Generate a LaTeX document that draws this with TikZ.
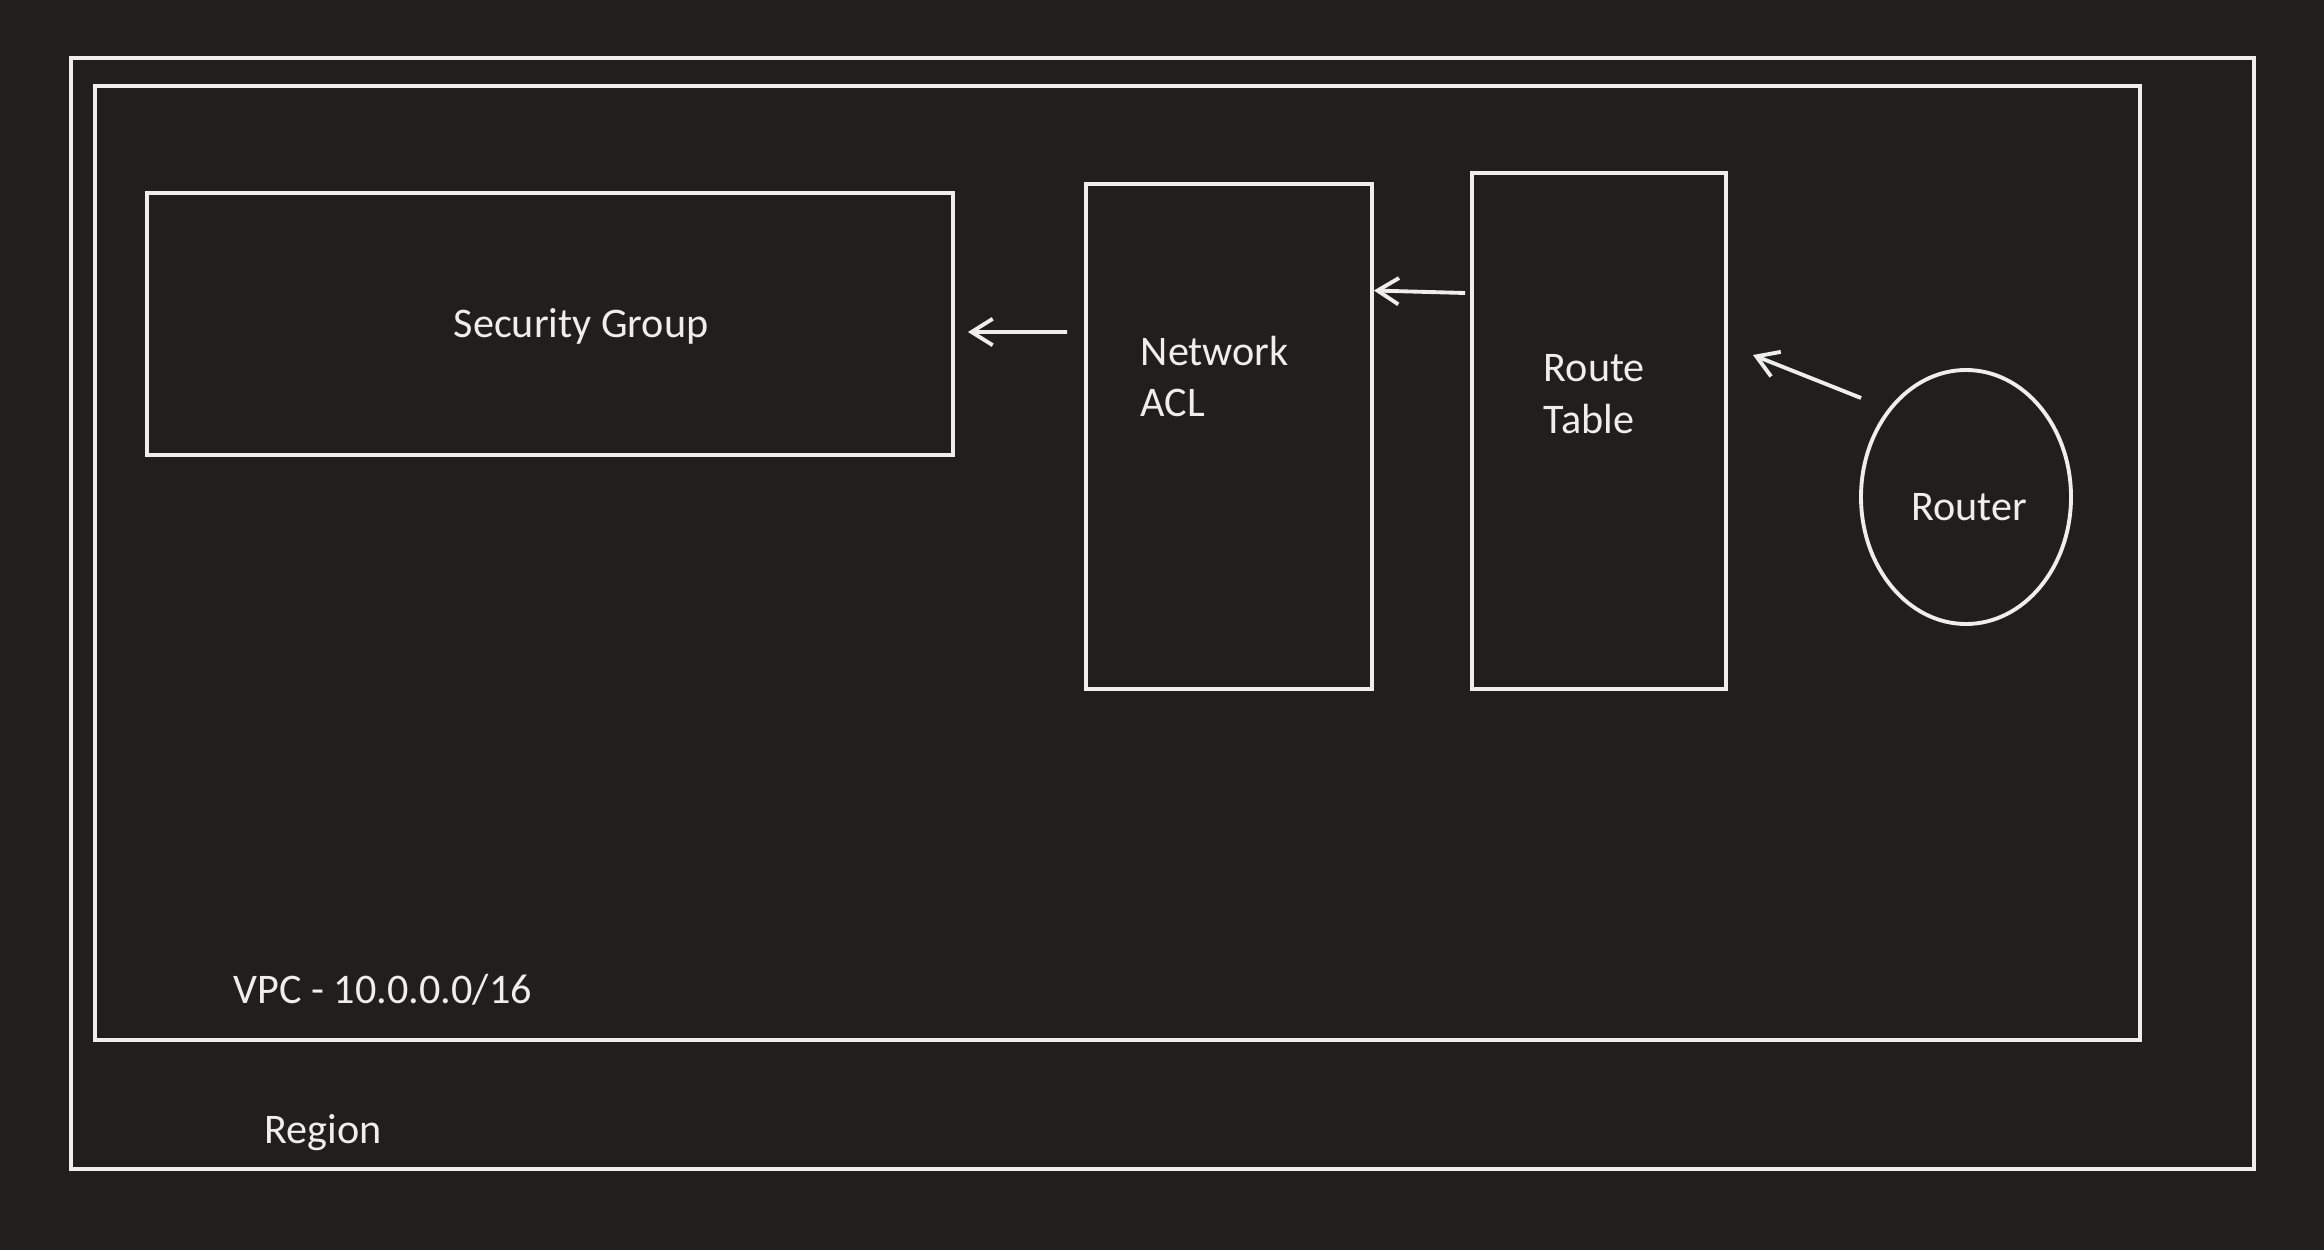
\documentclass[tikz,border=0pt]{standalone}
\usepackage{fontspec}
\setmainfont{Carlito}
\usetikzlibrary{arrows.meta,shapes.geometric}

\definecolor{bgdark}{HTML}{201F1E}
\definecolor{linewhite}{HTML}{EEEEEE}

\begin{document}
\begin{tikzpicture}[
    box/.style={draw=linewhite, line width=1.1pt, rectangle,
                inner sep=0pt},
    oval/.style={draw=linewhite, line width=1.1pt, ellipse,
                 inner sep=0pt},
    flow/.style={-{Straight Barb[length=6pt, width=7.5pt, line width=1.1pt]},
                 line width=1.1pt, linewhite},
    lbl/.style={font=\fontsize{12}{14.6}\selectfont, text=linewhite,
                inner sep=0pt, align=left},
]

% --- Background ---
\fill[bgdark] (0, 0) rectangle (23.24, -12.5);
\useasboundingbox (0, 0) rectangle (23.24, -12.5);

% --- Containers ---
\node[box, minimum width=21.83cm, minimum height=11.11cm] (region)
    at (11.625, -6.135) {};
\node[box, minimum width=20.45cm, minimum height=9.54cm] (vpc)
    at (11.175, -5.63) {};

% --- Blocks ---
\node[box, minimum width=8.06cm, minimum height=2.62cm] (sg)
    at (5.50, -3.24) {};
\node[box, minimum width=2.86cm, minimum height=5.05cm] (acl)
    at (12.29, -4.365) {};
\node[box, minimum width=2.54cm, minimum height=5.16cm] (rt)
    at (15.99, -4.31) {};
\node[oval, minimum width=2.10cm, minimum height=2.54cm] (router)
    at (19.66, -4.97) {};

% --- Labels ---
\node[lbl] (sglbl) at ([xshift=0.31cm, yshift=-0.02cm]sg.center)
    {Security Group};
\node[lbl, anchor=west] (acllbl) at ([xshift=0.56cm, yshift=0.60cm]acl.west)
    {Network\\ACL};
\node[lbl, anchor=west] (rtlbl) at ([xshift=0.73cm, yshift=0.37cm]rt.west)
    {Route\\Table};
\node[lbl] (routerlbl) at ([xshift=0.03cm, yshift=-0.10cm]router.center)
    {Router};
\node[lbl, anchor=base west] (vpclbl)
    at ([xshift=1.40cm, yshift=0.38cm]vpc.south west) {VPC - 10.0.0.0/16};
\node[lbl, anchor=base west] (regionlbl)
    at ([xshift=1.95cm, yshift=0.27cm]region.south west) {Region};

% --- Connectors ---
\draw[flow] ([xshift=-0.17cm, yshift=1.045cm]acl.west)
    -- ([xshift=0.13cm, yshift=-0.08cm]sg.east);
\draw[flow] ([xshift=-0.05cm, yshift=1.38cm]rt.west)
    -- ([yshift=1.46cm]acl.east);
\draw[flow] ([xshift=0.02cm, yshift=0.99cm]router.west)
    -- ([xshift=0.25cm, yshift=0.76cm]rt.east);

\end{tikzpicture}
\end{document}
